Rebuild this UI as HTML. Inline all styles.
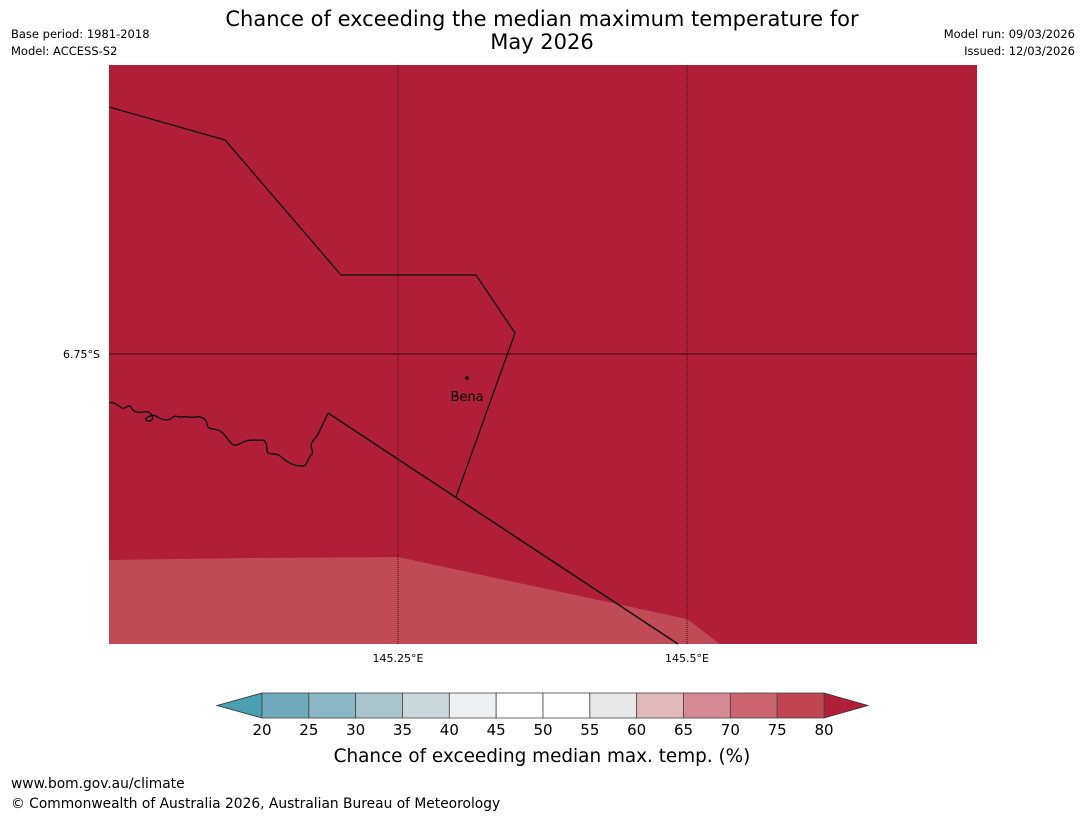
<!DOCTYPE html>
<html><head><meta charset="utf-8"><style>
body{margin:0;background:#fff;width:1085px;height:816px;overflow:hidden;font-family:"Liberation Sans","DejaVu Sans",sans-serif;}
svg text{font-family:"DejaVu Sans","Liberation Sans",sans-serif;}
</style></head><body>
<svg width="1085" height="816">
<text x="542" y="26" font-size="21" text-anchor="middle">Chance of exceeding the median maximum temperature for</text>
<text x="542" y="49" font-size="21" text-anchor="middle">May 2026</text>
<text x="11" y="38" font-size="11.5">Base period: 1981-2018</text>
<text x="11" y="55" font-size="11.5">Model: ACCESS-S2</text>
<text x="1075" y="38" font-size="11.5" text-anchor="end">Model run: 09/03/2026</text>
<text x="1075" y="55" font-size="11.5" text-anchor="end">Issued: 12/03/2026</text>
<g>
<rect x="109" y="65" width="868" height="579" fill="#b01e3a"/>
<polygon points="109,560 250,558 398,557 687,619 720,644 109,644" fill="#c04a58"/>
<line x1="398" y1="65" x2="398" y2="644" stroke="#3a0a12" stroke-width="1" stroke-dasharray="1,1"/>
<line x1="687" y1="65" x2="687" y2="644" stroke="#3a0a12" stroke-width="1" stroke-dasharray="1,1"/>
<line x1="109" y1="354" x2="977" y2="354" stroke="#3a0a12" stroke-width="1"/>
<polyline points="109,107 225,140 341,275 476,275 515,333 456,497" fill="none" stroke="#111" stroke-width="1.3"/>
<line x1="328" y1="413" x2="678" y2="644" stroke="#111" stroke-width="1.5"/>
<path d="M109,403 C114,401 118,406 122,408 C126,410 128,403 131,407 C133,412 137,413 142,412 C147,411 150,412 152,415 C154,420 150,423 146,420 C144,418 152,414 156,416 C160,419 167,422 172,418 C176,414 178,418 182,417 C186,416 190,418 195,417 C200,416 206,418 207,424 C208,430 212,428 218,430 C224,432 226,438 232,444 C236,447 240,443 246,441 C252,439 258,441 262,440 C266,440 267,446 267,451 C268,456 276,452 280,456 C284,459 288,463 292,464 C296,466 300,466 304,466 C308,464 308,457 312,454 C314,450 309,448 312,442 C315,438 318,436 320,430 C322,426 325,420 328,413" fill="none" stroke="#111" stroke-width="1.4"/>
<circle cx="467" cy="378" r="1.8" fill="#000"/>
<text x="467" y="401" font-size="13" text-anchor="middle">Bena</text>
</g>
<text x="100" y="358" font-size="11" text-anchor="end">6.75°S</text>
<text x="398" y="662" font-size="11" text-anchor="middle">145.25°E</text>
<text x="687" y="662" font-size="11" text-anchor="middle">145.5°E</text>
<g id="cbar"></g>
<text x="542" y="762" font-size="18.4" text-anchor="middle">Chance of exceeding median max. temp. (%)</text>
<text x="11" y="788" font-size="13.8">www.bom.gov.au/climate</text>
<text x="11" y="808" font-size="13.8">© Commonwealth of Australia 2026, Australian Bureau of Meteorology</text>
</svg>
<script>
const levels=[20,25,30,35,40,45,50,55,60,65,70,75,80];
const binColors=["#6eaabb","#8ab8c4","#a9c5cb","#cbd8db","#ecf0f2","#ffffff","#ffffff","#e8e8e8","#e2b8bd","#d68a95","#c96470","#c04452"];
const lowColor="#4a9fb0";
const highColor="#b01e3a";
const NS="http://www.w3.org/2000/svg";
const g=document.getElementById('cbar');
const x0=262,x1=824,y0=693,y1=718;
function xs(v){return x0+(v-levels[0])/(levels[levels.length-1]-levels[0])*(x1-x0);}
function mk(t,a){const e=document.createElementNS(NS,t);for(const k in a)e.setAttribute(k,a[k]);g.appendChild(e);return e;}
let lt=mk('polygon',{points:`${x0},${y0} ${x0-45},${(y0+y1)/2} ${x0},${y1}`,fill:lowColor,stroke:'#333','stroke-width':0.8});


let rt=mk('polygon',{points:`${x1},${y0} ${x1+44},${(y0+y1)/2} ${x1},${y1}`,fill:highColor,stroke:'#333','stroke-width':0.8});


for(let i=0;i<binColors.length;i++){
 const a=xs(levels[i]),b=xs(levels[i+1]);
 const r=mk('rect',{x:a,y:y0,width:b-a,height:y1-y0,fill:binColors[i],stroke:'#444','stroke-width':0.8});
 
 
}
for(const v of levels){
 const t=mk('text',{x:xs(v),y:735,'font-size':15,'text-anchor':'middle'});
 t.textContent=v;
 
 
}
</script>
</body></html>
